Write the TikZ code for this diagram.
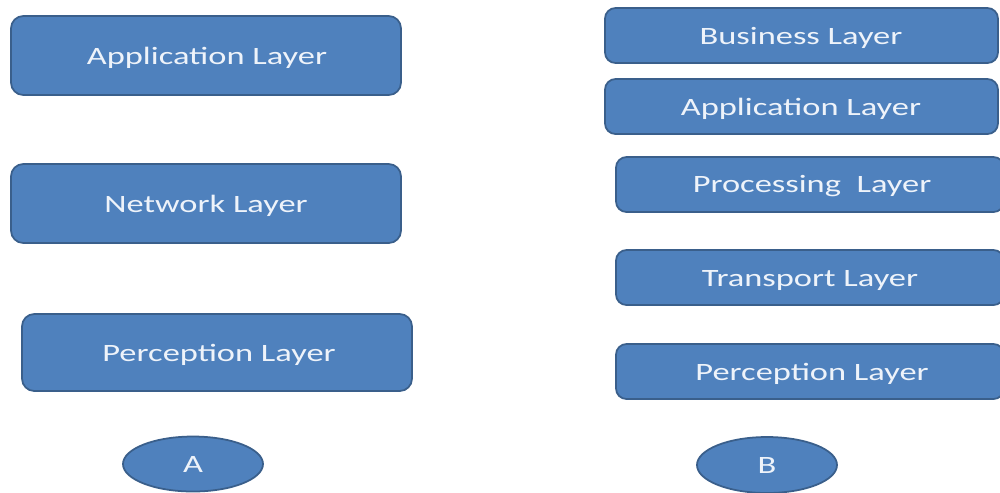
\documentclass[tikz,border=0pt]{standalone}
\usepackage{fontspec}
\setmainfont{Carlito}[FakeStretch=1.38]
\usetikzlibrary{shapes.geometric}
\definecolor{boxfill}{HTML}{4F81BD}
\definecolor{boxline}{HTML}{3A5F8B}
\definecolor{boxtext}{HTML}{EEF3FA}
\tikzset{
  layerbox/.style={draw=boxline, line width=0.5pt, fill=boxfill, rounded corners=3.5pt},
  layertext/.style={text=boxtext, font=\fontsize{7.1}{8}\selectfont},
  tagoval/.style={draw=boxline, line width=0.5pt, fill=boxfill, ellipse, inner sep=0pt, text=boxtext,
    font=\fontsize{7.1}{8}\selectfont},
}
\begin{document}
\begin{tikzpicture}[x=0.1mm, y=-0.1mm]
\useasboundingbox[fill=white] (0,0) rectangle (1000,492);
% left stack (A)
\draw[layerbox] (11,16) rectangle (401,95);
\node[layertext] (la) at (207,58) {Application Layer};
\draw[layerbox] (11,164) rectangle (401,243);
\node[layertext] (ln) at (206,206) {Network Layer};
\draw[layerbox] (22,314) rectangle (412,391);
\node[layertext] (lp) at (219,355) {Perception Layer};
\node[tagoval, minimum width=14mm, minimum height=5.5mm] (A) at (193,464) {A};
% right stack (B)
\draw[layerbox, rounded corners=3pt] (605,8) rectangle (998,63);
\node[layertext] (rb) at (801,38) {Business Layer};
\draw[layerbox, rounded corners=3pt] (605,79) rectangle (998,134);
\node[layertext] (ra) at (801,109) {Application Layer};
\draw[layerbox, rounded corners=3pt] (616,157) rectangle (1004,212);
\node[layertext] (rpr) at (812,186) {Processing\ \ Layer};
\draw[layerbox, rounded corners=3pt] (616,250) rectangle (1004,305);
\node[layertext] (rt) at (810,280) {Transport Layer};
\draw[layerbox, rounded corners=3pt] (616,344) rectangle (1004,399);
\node[layertext] (rp) at (812,374) {Perception Layer};
\node[tagoval, minimum width=14mm, minimum height=5.6mm] (B) at (767,465) {B};
\end{tikzpicture}
\end{document}
